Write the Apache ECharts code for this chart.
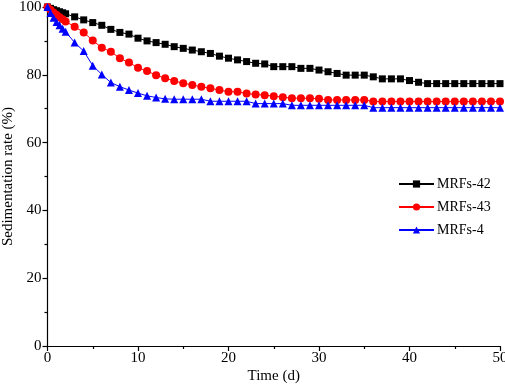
<!DOCTYPE html>
<html>
<head>
<meta charset="utf-8">
<script src="https://cdn.jsdelivr.net/npm/echarts@6/dist/echarts.min.js"></script>
<style>
  html, body { margin: 0; padding: 0; background: #fff; }
  #chart { width: 505px; height: 390px; }
</style>
</head>
<body>
<div id="chart"></div>
<script>
// time points (days): dense during first two days, then daily
const days = [0, 0.33, 0.67, 1, 1.33, 1.67, 2,
  3, 4, 5, 6, 7, 8, 9, 10, 11, 12, 13, 14, 15, 16, 17, 18, 19, 20,
  21, 22, 23, 24, 25, 26, 27, 28, 29, 30, 31, 32, 33, 34, 35, 36, 37, 38, 39, 40,
  41, 42, 43, 44, 45, 46, 47, 48, 49, 50];

const mrfs42 = [100, 99.6, 99.2, 98.9, 98.6, 98.3, 98.0,
  97.1, 96.2, 95.4, 94.6, 93.4, 92.5, 92.0, 90.8, 90.0, 89.5, 89.0, 88.3, 87.8, 87.3, 86.8, 86.3, 85.5, 84.9,
  84.4, 83.9, 83.4, 83.2, 82.4, 82.4, 82.4, 81.9, 81.9, 81.4, 80.9, 80.4, 79.9, 79.9, 79.9, 79.4, 78.8, 78.8, 78.8, 78.3,
  77.8, 77.4, 77.4, 77.4, 77.4, 77.4, 77.4, 77.4, 77.4, 77.4];

const mrfs43 = [100, 99.2, 98.4, 97.7, 97.0, 96.4, 95.7,
  94.2, 92.5, 90.1, 88.0, 86.8, 84.9, 83.6, 82.1, 81.1, 79.9, 79.0, 78.2, 77.5, 77.0, 76.5, 76.0, 75.5, 75.0,
  75.0, 74.5, 74.2, 74.0, 73.7, 73.4, 73.1, 73.1, 73.1, 72.9, 72.6, 72.6, 72.6, 72.6, 72.6, 72.1, 72.1, 72.1, 72.1, 72.1,
  72.1, 72.1, 72.1, 72.1, 72.1, 72.1, 72.1, 72.1, 72.1, 72.1];

const mrfs4 = [100, 98.2, 96.8, 95.6, 94.6, 93.6, 92.7,
  89.5, 87.0, 82.7, 80.1, 77.7, 76.5, 75.5, 74.6, 73.8, 73.3, 72.9, 72.8, 72.8, 72.8, 72.8, 72.2, 72.2, 72.2,
  72.2, 72.2, 71.5, 71.5, 71.5, 71.5, 71.0, 71.0, 71.0, 71.0, 71.0, 71.0, 71.0, 71.0, 71.0, 70.3, 70.3, 70.3, 70.3, 70.3,
  70.3, 70.3, 70.3, 70.3, 70.3, 70.3, 70.3, 70.3, 70.3, 70.3];

const xTicks = [0, 10, 20, 30, 40, 50];
const yTicks = [0, 20, 40, 60, 80, 100];

const FONT = '"Liberation Serif", "Times New Roman", serif';

function pairs(ys) {
  return days.map(function (d, i) { return [d, ys[i]]; });
}

function makeSeries(name, ys, color, symbol, size) {
  return {
    name: name,
    type: 'line',
    data: pairs(ys),
    symbol: symbol,
    symbolSize: size,
    showAllSymbol: true,
    lineStyle: { color: color, width: 1 },
    itemStyle: { color: color },
    emphasis: { disabled: true },
    z: 3,
  };
}

const axisCommon = {
  axisLine: { show: true, onZero: false, lineStyle: { color: '#000', width: 1.2 } },
  axisTick: { show: true, inside: false, length: 5, lineStyle: { color: '#000', width: 1.2 } },
  minorTick: { show: true, splitNumber: 2, length: 3, lineStyle: { color: '#000', width: 1.2 } },
  splitLine: { show: false },
  axisLabel: { color: '#000', fontFamily: FONT, fontSize: 15 },
  nameTextStyle: { color: '#000', fontFamily: FONT, fontSize: 15 },
  nameMoveOverlap: false,
};

const chart = echarts.init(document.getElementById('chart'), null, { renderer: 'canvas' });
chart.setOption({
  animation: false,
  backgroundColor: '#fff',
  grid: { left: 47.5, right: 5, top: 7, bottom: 44, containLabel: false, outerBoundsMode: 'none' },
  legend: {
    orient: 'vertical',
    left: 398,
    top: 177,
    padding: 0,
    itemWidth: 35,
    itemHeight: 9,
    itemGap: 9,
    textStyle: { color: '#000', fontFamily: FONT, fontSize: 14, padding: [0, 0, 0, -2] },
    data: ['MRFs-42', 'MRFs-43', 'MRFs-4'],
  },
  xAxis: Object.assign({}, axisCommon, {
    type: 'value',
    min: xTicks[0],
    max: xTicks[xTicks.length - 1],
    interval: 10,
    name: 'Time (d)',
    nameLocation: 'middle',
    nameGap: 23,
    axisLabel: Object.assign({}, axisCommon.axisLabel, { margin: 5 }),
  }),
  yAxis: Object.assign({}, axisCommon, {
    type: 'value',
    min: yTicks[0],
    max: yTicks[yTicks.length - 1],
    interval: 20,
    name: 'Sedimentation rate (%)',
    nameLocation: 'middle',
    nameGap: 32,
    axisLabel: Object.assign({}, axisCommon.axisLabel, { margin: 6 }),
  }),
  series: [
    makeSeries('MRFs-42', mrfs42, '#000000', 'rect', 7),
    makeSeries('MRFs-43', mrfs43, '#ff0000', 'circle', 8),
    makeSeries('MRFs-4', mrfs4, '#0000ff', 'triangle', 8),
  ],
});
</script>
</body>
</html>
